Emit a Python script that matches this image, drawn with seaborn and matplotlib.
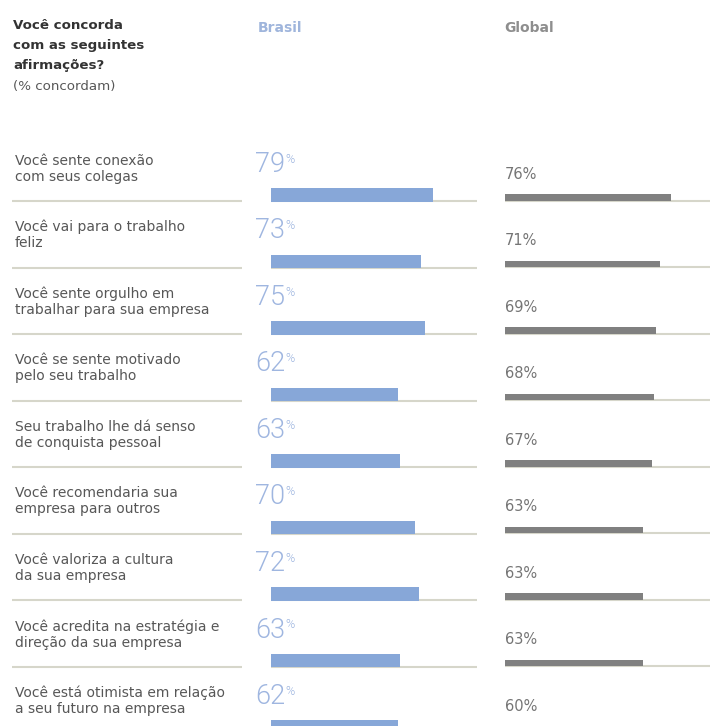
import numpy as np
import pandas as pd
import matplotlib
matplotlib.use("Agg")
import matplotlib.pyplot as plt
import seaborn as sns

# Survey statements (two lines each) and share of respondents who agree
statements = [
    ("Você sente conexão", "com seus colegas"),
    ("Você vai para o trabalho", "feliz"),
    ("Você sente orgulho em", "trabalhar para sua empresa"),
    ("Você se sente motivado", "pelo seu trabalho"),
    ("Seu trabalho lhe dá senso", "de conquista pessoal"),
    ("Você recomendaria sua", "empresa para outros"),
    ("Você valoriza a cultura", "da sua empresa"),
    ("Você acredita na estratégia e", "direção da sua empresa"),
    ("Você está otimista em relação", "a seu futuro na empresa"),
]
brasil = [79, 73, 75, 62, 63, 70, 72, 63, 62]
global_ = [76, 71, 69, 68, 67, 63, 63, 63, 60]

title_lines = ["Você concorda", "com as seguintes", "afirmações?"]
subtitle = "(% concordam)"
col_brasil = "Brasil"
col_global = "Global"

df = pd.DataFrame({
    "item": [" ".join(s) for s in statements],
    "brasil": brasil,
    "global": global_,
})

W, H = 710, 726
PITCH = 66.5                      # vertical distance between rows (px)
BR_CENTER, GL_CENTER = 194.8, 197.5  # first-row bar centres (px from top)

C_TEXT = "#575757"
C_TITLE = "#333333"
C_BR_HEAD = "#9fb5dc"
C_BR_NUM = "#9fb6e0"
C_BR_BAR = "#87a7d8"
C_GL_HEAD = "#8e8e8e"
C_GL_TXT = "#757575"
C_GL_BAR = "#808080"
C_RULE = "#d6d6ca"
NUM_FONT = ["Roboto", "DejaVu Sans"]

sns.set_theme(style="white")
plt.rcParams["font.family"] = ["DejaVu Sans"]

fig = plt.figure(figsize=(W / 100, H / 100), dpi=100)
fig.patch.set_facecolor("white")


def ylims(center):
    return ((H - center) / PITCH, -center / PITCH)


n = len(df)
rows = np.arange(n)

# --- statement column ---------------------------------------------------
ax_lab = fig.add_axes([0, 0, 1, 1])
ax_lab.set_xlim(0, W)
ax_lab.set_ylim(*ylims(BR_CENTER))
ax_lab.axis("off")
ax_lab.hlines(rows + 0.10, 12, 242, color=C_RULE, lw=1.5)
for i, (l1, l2) in enumerate(statements):
    ax_lab.annotate(l1, xy=(15, i), xytext=(0, BR_CENTER - 165),
                    textcoords="offset pixels", va="baseline", ha="left",
                    fontsize=10, color=C_TEXT, annotation_clip=False)
    ax_lab.annotate(l2, xy=(15, i), xytext=(0, BR_CENTER - 181),
                    textcoords="offset pixels", va="baseline", ha="left",
                    fontsize=10, color=C_TEXT, annotation_clip=False)

# --- Brasil column ------------------------------------------------------
ax_br = fig.add_axes([271 / W, 0, 205.5 / W, 1])
sns.barplot(data=df, y="item", x="brasil", orient="h", color=C_BR_BAR,
            saturation=1, width=0.203, linewidth=0, ax=ax_br, zorder=2)
ax_br.hlines(rows + 0.10, 0, 100, color=C_RULE, lw=1.5, zorder=1)
ax_br.set_xlim(0, 100)
ax_br.set_ylim(*ylims(BR_CENTER))
ax_br.axis("off")
for i, v in enumerate(brasil):
    t = ax_br.annotate(f"{v}", xy=(0, i), xytext=(-16, BR_CENTER - 172),
                       textcoords="offset pixels", va="baseline", ha="left",
                       fontsize=19.5, color=C_BR_NUM, family=NUM_FONT,
                       fontweight=300, annotation_clip=False)
    ax_br.annotate("%", xy=(1, 1), xycoords=t, xytext=(0, -2),
                   textcoords="offset pixels", va="top", ha="left",
                   fontsize=9, color=C_BR_NUM, family=NUM_FONT,
                   fontweight=300, annotation_clip=False)

# --- Global column ------------------------------------------------------
ax_gl = fig.add_axes([505 / W, 0, 219 / W, 1])
sns.barplot(data=df, y="item", x="global", orient="h", color=C_GL_BAR,
            saturation=1, width=0.098, linewidth=0, ax=ax_gl, zorder=2)
ax_gl.hlines(rows + 0.048, 0, 100, color=C_RULE, lw=1.5, zorder=1)
ax_gl.set_xlim(0, 100)
ax_gl.set_ylim(*ylims(GL_CENTER))
ax_gl.axis("off")
for i, v in enumerate(global_):
    ax_gl.annotate(f"{v}%", xy=(0, i), xytext=(0, GL_CENTER - 179),
                   textcoords="offset pixels", va="baseline", ha="left",
                   fontsize=10.5, color=C_GL_TXT, annotation_clip=False)

# --- headers ------------------------------------------------------------
def ftext(x, y, s, **kw):
    fig.text(x / W, 1 - y / H, s, va="baseline", ha="left", **kw)


for k, line in enumerate(title_lines):
    ftext(13, 29 + 20 * k, line, fontsize=9.6, fontweight="bold",
          color=C_TITLE)
ftext(13, 90, subtitle, fontsize=9.6, color=C_TEXT)
ftext(258, 31.5, col_brasil, fontsize=10, fontweight="bold", color=C_BR_HEAD)
ftext(504, 31.5, col_global, fontsize=10, fontweight="bold", color=C_GL_HEAD)

fig.savefig("out.png", dpi=100, facecolor="white")
